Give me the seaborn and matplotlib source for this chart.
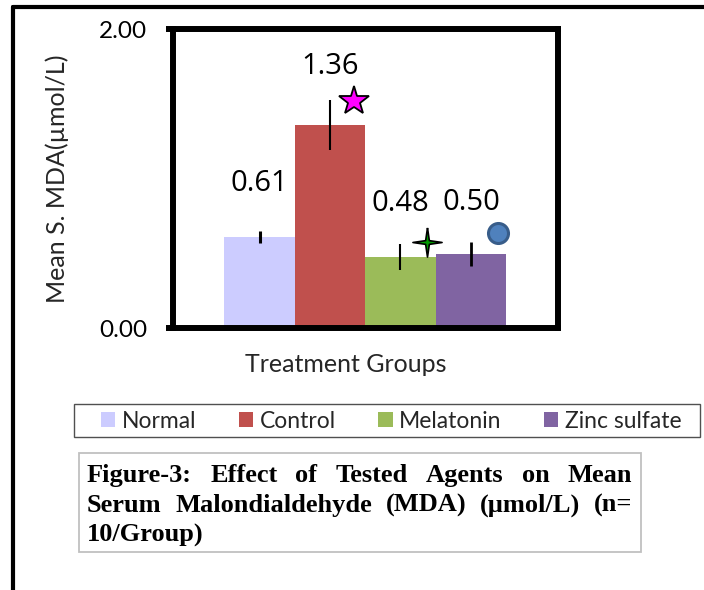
import numpy as np
import pandas as pd
import matplotlib
matplotlib.use("Agg")
import matplotlib.pyplot as plt
import seaborn as sns
from matplotlib.lines import Line2D
from matplotlib.patches import Rectangle

# ---------------- data ----------------
groups = ["Normal", "Control", "Melatonin", "Zinc sulfate"]
means = [0.61, 1.36, 0.48, 0.50]
errors = [0.04, 0.165, 0.087, 0.08]
category = "Treatment Groups"
y_ticks = [0.0, 2.0]
sig_groups = ["Control", "Melatonin", "Zinc sulfate"]
sig_y = [1.52, 0.577, 0.64]
caption_lines = [
    "Figure-3: Effect of Tested Agents on Mean",
    "Serum Malondialdehyde (MDA) (µmol/L) (n=",
    "10/Group)",
]
ylabel = "Mean S. MDA(µmol/L)"

# ---------------- style ----------------
colors = ["#CCCCFF", "#C0504D", "#9BBB59", "#8064A2"]
sns.set_style("white")
plt.rcParams["font.family"] = ["Lato", "DejaVu Sans"]

W, H = 704, 590
fig = plt.figure(figsize=(W / 100, H / 100), dpi=100)

def fx(px):
    return px / W

def fy(py):
    return 1 - py / H

ax_l, ax_r, ax_t, ax_b = 172.5, 558.0, 29.3, 328.3
ax = fig.add_axes([fx(ax_l), fy(ax_b), (ax_r - ax_l) / W, (ax_b - ax_t) / H])

df = pd.DataFrame({"cat": [category] * len(groups), "group": groups, "mean": means})
sns.barplot(data=df, x="cat", y="mean", hue="group", hue_order=groups,
            palette=dict(zip(groups, colors)), saturation=1, width=0.7315, gap=0,
            errorbar=None, linewidth=0, ax=ax, legend=True)
ax.set_xlim(-0.5, 0.5)

# bar geometry from the drawn patches
bars = {}
for cont, g in zip(ax.containers, groups):
    p = cont.patches[0]
    bars[g] = (p.get_x(), p.get_width())
centers = np.array([bars[g][0] + bars[g][1] / 2 for g in groups])
m = np.array(means)
e = np.array(errors)
ax.vlines(centers, m - e, m + e, colors="black", linewidths=[2.2, 1.5, 1.5, 2.0], zorder=3)

# value labels
pads = [28, 31.5, 28, 26.5]
for cont, v, pd_ in zip(ax.containers, means, pads):
    ax.bar_label(cont, labels=[f"{v:.2f}"], padding=pd_, fontsize=21,
                 family=["Open Sans", "DejaVu Sans"], color="black")

# significance markers
sig_frac = {"Control": 0.84, "Melatonin": 0.88, "Zinc sulfate": 0.89}
sparkle = []
for k in range(8):
    ang = np.pi / 2 + k * np.pi / 4
    r = 1.0 if k % 2 == 0 else 0.18
    sparkle.append((r * np.cos(ang), r * np.sin(ang)))
sparkle.append(sparkle[0])
marker_styles = {
    "Control": dict(marker="*", markersize=22, markerfacecolor="#FF00FF",
                    markeredgecolor="black", markeredgewidth=1.3),
    "Melatonin": dict(marker=sparkle, markersize=21, markerfacecolor="#009900",
                      markeredgecolor="black", markeredgewidth=1.2),
    "Zinc sulfate": dict(marker="o", markersize=14.4, markerfacecolor="#4F81BD",
                         markeredgecolor="#385D8A", markeredgewidth=2.2),
}
for g, yv in zip(sig_groups, sig_y):
    x0, w = bars[g]
    ax.plot([x0 + sig_frac[g] * w], [yv], linestyle="none", zorder=4,
            clip_on=False, **marker_styles[g])

# axes formatting
ax.set_ylim(0, 2)
ax.set_yticks(y_ticks)
ax.set_yticklabels([f"{t:.2f}" for t in y_ticks])
ax.set_xticks([])
ax.tick_params(axis="y", left=True, direction="out", length=5, width=4.3,
               pad=13, labelsize=17.5, colors="black")
for s in ax.spines.values():
    s.set_visible(True)
    s.set_color("black")
    s.set_linewidth(4.3)
ax.set_ylabel(ylabel, fontsize=18)
ax.yaxis.set_label_coords((69 - ax_l) / (ax_r - ax_l), 0.5)
ax.set_xlabel(category, fontsize=18)
ax.xaxis.set_label_coords((346 - ax_l) / (ax_r - ax_l), -(353 - ax_b) / (ax_b - ax_t))

# legend
handles, labels = ax.get_legend_handles_labels()
if ax.legend_ is not None:
    ax.legend_.remove()
fig.legend(handles, labels, ncol=4, frameon=False, loc="center",
           bbox_to_anchor=(fx(391), fy(421)), prop={"family": "Lato", "size": 16.5},
           handlelength=0.64, handleheight=0.64, handletextpad=0.27,
           columnspacing=1.85, borderpad=0)
fig.add_artist(Rectangle((fx(74), fy(437)), (700 - 74) / W, (437 - 404) / H,
                         transform=fig.transFigure, fill=False,
                         edgecolor="#505050", linewidth=1.0))

# caption box
fig.add_artist(Rectangle((fx(79), fy(552)), (641 - 79) / W, (552 - 453) / H,
                         transform=fig.transFigure, fill=False,
                         edgecolor="#C0C0C0", linewidth=1.3))
renderer = fig.canvas.get_renderer()
cap_font = dict(family=["Liberation Serif", "DejaVu Serif"], fontweight="bold",
                fontsize=19, va="baseline", ha="left", color="black")
left_px, right_px = 87.0, 632.0
baselines = [482, 512, 542]
for i, (line, yb) in enumerate(zip(caption_lines, baselines)):
    words = line.split(" ")
    justify = i < len(caption_lines) - 1 and len(words) > 1
    if not justify:
        fig.text(fx(left_px), fy(yb), line, **cap_font)
        continue
    texts = [fig.text(0, fy(yb), wd, **cap_font) for wd in words]
    widths = [t.get_window_extent(renderer).width for t in texts]
    gap = (right_px - left_px - sum(widths)) / (len(words) - 1)
    x = left_px
    for t, wdt in zip(texts, widths):
        t.set_x(fx(x))
        x += wdt + gap

# outer frame lines
fig.add_artist(Line2D([fx(13), 1], [fy(7), fy(7)], transform=fig.transFigure,
                      color="black", linewidth=3))
fig.add_artist(Line2D([fx(13), fx(13)], [0, fy(7)], transform=fig.transFigure,
                      color="black", linewidth=3))

fig.savefig("out.png", dpi=100)
